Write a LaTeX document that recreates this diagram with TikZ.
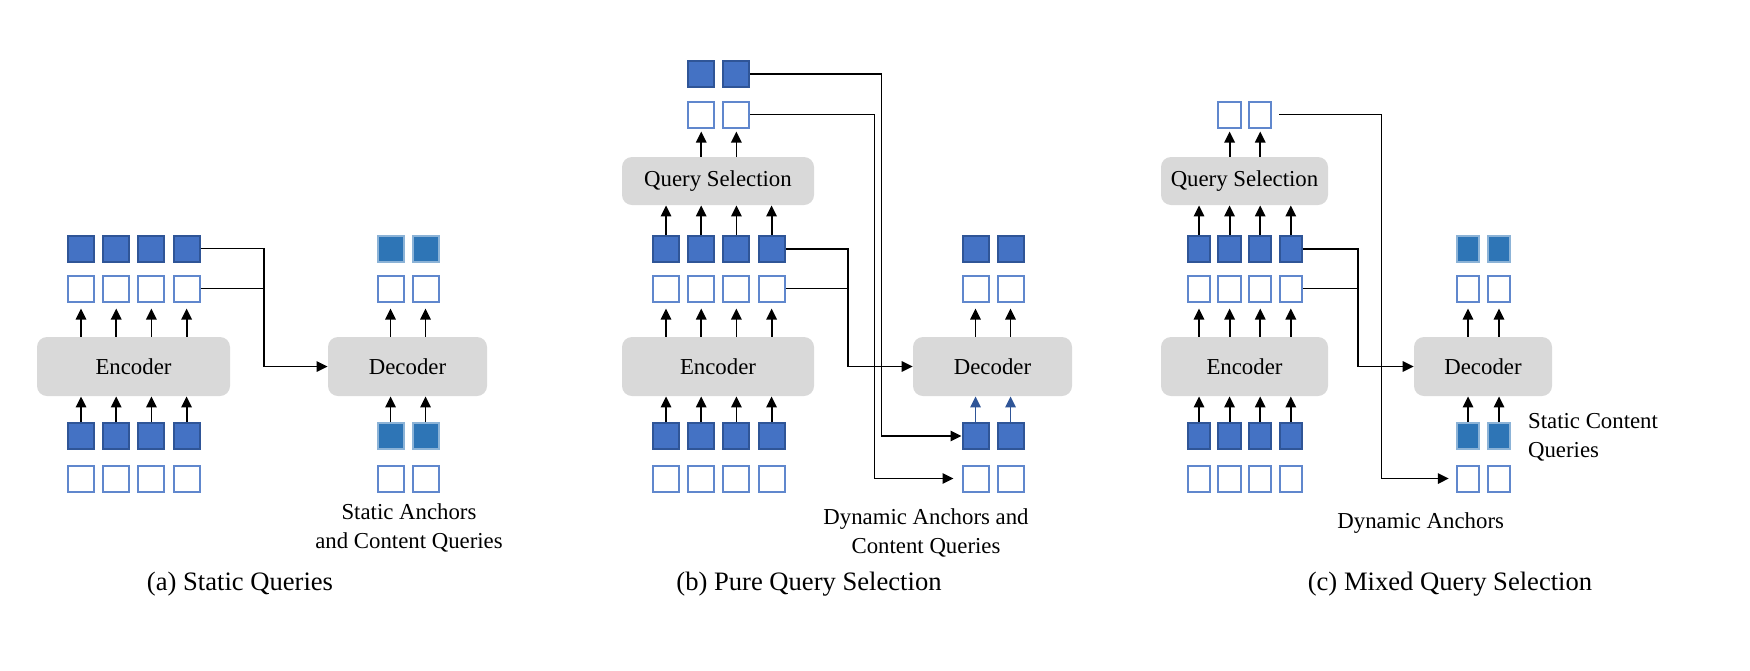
\documentclass[tikz,border=0pt]{standalone}
\usepackage{fontspec}
\setmainfont{Liberation Serif}
\usepackage{xcolor}
\usepackage{tikz}
\usetikzlibrary{arrows.meta, positioning}
\definecolor{qblue}{HTML}{4472C4}
\definecolor{qedge}{HTML}{2F5597}
\definecolor{qteal}{HTML}{2E75B6}
\definecolor{qgray}{HTML}{D9D9D9}
\tikzset{
  sq/.style={rectangle, inner sep=0pt, minimum width=13pt, minimum height=13pt, line width=1pt},
  narrow/.style={minimum width=11.2pt},
  fillsq/.style={sq, fill=qblue, draw=qedge},
  tealsq/.style={sq, fill=qteal, draw=qteal!55!white},
  emptysq/.style={sq, fill=white, draw=qblue!85!white},
  graybox/.style={rectangle, rounded corners=5pt, fill=qgray, inner sep=0pt,
    font=\fontsize{11.4}{13}\selectfont},
  arrow/.style={-{Triangle[length=5.5pt, width=5.2pt]}, line width=0.9pt, black},
  link/.style={line width=0.8pt, black},
  note/.style={font=\fontsize{11.4}{14.5}\selectfont, align=center, inner sep=0pt},
  caption/.style={font=\fontsize{13.3}{15}\selectfont, inner sep=0pt}
}

\begin{document}
\begin{tikzpicture}[x=0.5pt, y=-0.5pt]
  \useasboundingbox (0,0) rectangle (1750,670);

  \node[graybox, minimum width=96.5pt, minimum height=29.5pt] (aenc) at (133.5,366.5) {Encoder};
  \node[graybox, minimum width=79.5pt, minimum height=29.5pt] (adec) at (407.5,366.5) {Decoder};
  \foreach \i in {1,...,4} {
    \pgfmathsetmacro\cx{81+35.2*(\i-1)}
    \node[fillsq]  (af\i)  at (\cx,248.5) {};
    \node[emptysq] (ao\i)  at (\cx,288.5) {};
    \node[fillsq]  (aif\i) at (\cx,436) {};
    \node[emptysq] (aio\i) at (\cx,478.5) {};
    \draw[arrow, shorten >=3pt] (aenc.north -| ao\i) -- (ao\i.south);
    \draw[arrow] (aif\i.north) -- (aif\i.north |- aenc.south);
  }
  \foreach \i/\cx in {1/390.5, 2/425.5} {
    \node[tealsq]  (adf\i)  at (\cx,248.5) {};
    \node[emptysq] (ado\i)  at (\cx,288.5) {};
    \node[tealsq]  (adif\i) at (\cx,436) {};
    \node[emptysq] (adio\i) at (\cx,478.5) {};
    \draw[arrow, shorten >=3pt] (adec.north -| ado\i) -- (ado\i.south);
    \draw[arrow] (adif\i.north) -- (adif\i.north |- adec.south);
  }
  \draw[arrow] (af4.east) -- ++(63,0) |- (adec.west);
  \draw[link]  (ao4.east) -- ++(63,0);
  \node[note] (alabel) at (409,527.5) {Static Anchors\\and Content Queries};
  \node[caption] (acap) at (240,584) {(a) Static Queries};

  \node[graybox, minimum width=96pt, minimum height=24pt] (bqs) at (718,181) {Query Selection};
  \node[graybox, minimum width=96pt, minimum height=29.5pt] (benc) at (718,366.5) {Encoder};
  \node[graybox, minimum width=79.5pt, minimum height=29.5pt] (bdec) at (992.5,366.5) {Decoder};
  \foreach \i in {1,...,4} {
    \pgfmathsetmacro\cx{666+35.2*(\i-1)}
    \node[fillsq]  (bmf\i) at (\cx,249) {};
    \node[emptysq] (bmo\i) at (\cx,288.5) {};
    \node[fillsq]  (bif\i) at (\cx,436) {};
    \node[emptysq] (bio\i) at (\cx,478.5) {};
    \draw[arrow] (bmf\i.north) -- (bmf\i.north |- bqs.south);
    \draw[arrow, shorten >=3pt] (benc.north -| bmo\i) -- (bmo\i.south);
    \draw[arrow] (bif\i.north) -- (bif\i.north |- benc.south);
  }
  \foreach \i/\cx in {1/701.2, 2/736.4} {
    \node[fillsq]  (bf\i) at (\cx,74) {};
    \node[emptysq] (bo\i) at (\cx,114.5) {};
    \draw[arrow, shorten >=1.5pt] (bqs.north -| bo\i) -- (bo\i.south);
  }
  \foreach \i/\cx in {1/975.5, 2/1010.5} {
    \node[fillsq]  (bdf\i)  at (\cx,248.5) {};
    \node[emptysq] (bdo\i)  at (\cx,288.5) {};
    \node[fillsq]  (bdif\i) at (\cx,436) {};
    \node[emptysq] (bdio\i) at (\cx,478.5) {};
    \draw[arrow, shorten >=3pt] (bdec.north -| bdo\i) -- (bdo\i.south);
    \draw[arrow, qedge] (bdif\i.north) -- (bdif\i.north |- bdec.south);
  }
  \draw[arrow] (bmf4.east) -- ++(62.7,0) |- (bdec.west);
  \draw[link]  (bmo4.east) -- ++(62.7,0);
  \draw[arrow] (bf2.east) -- ++(131,0) |- (bdif1.west);
  \draw[arrow, shorten >=4pt] (bo2.east) -- ++(124,0) |- (bdio1.west);
  \node[note] (blabel) at (926,533) {Dynamic Anchors and\\Content Queries};
  \node[caption] (bcap) at (809,584) {(b) Pure Query Selection};

  \node[graybox, minimum width=83.5pt, minimum height=24pt] (cqs) at (1244.5,181) {Query Selection};
  \node[graybox, minimum width=83.5pt, minimum height=29.5pt] (cenc) at (1244.5,366.5) {Encoder};
  \node[graybox, minimum width=69pt, minimum height=29.5pt] (cdec) at (1483,366.5) {Decoder};
  \foreach \i in {1,...,4} {
    \pgfmathsetmacro\cx{1199+30.6*(\i-1)}
    \node[fillsq, narrow]  (cmf\i) at (\cx,249) {};
    \node[emptysq, narrow] (cmo\i) at (\cx,288.5) {};
    \node[fillsq, narrow]  (cif\i) at (\cx,436) {};
    \node[emptysq, narrow] (cio\i) at (\cx,478.5) {};
    \draw[arrow] (cmf\i.north) -- (cmf\i.north |- cqs.south);
    \draw[arrow, shorten >=3pt] (cenc.north -| cmo\i) -- (cmo\i.south);
    \draw[arrow] (cif\i.north) -- (cif\i.north |- cenc.south);
  }
  \foreach \i/\cx in {1/1229.6, 2/1260.2} {
    \node[emptysq, narrow] (co\i) at (\cx,114.5) {};
    \draw[arrow, shorten >=1.5pt] (cqs.north -| co\i) -- (co\i.south);
  }
  \foreach \i/\cx in {1/1468, 2/1499} {
    \node[tealsq, narrow]  (cdf\i)  at (\cx,248.5) {};
    \node[emptysq, narrow] (cdo\i)  at (\cx,288.5) {};
    \node[tealsq, narrow]  (cdif\i) at (\cx,436) {};
    \node[emptysq, narrow] (cdio\i) at (\cx,478.5) {};
    \draw[arrow, shorten >=3pt] (cdec.north -| cdo\i) -- (cdo\i.south);
    \draw[arrow] (cdif\i.north) -- (cdif\i.north |- cdec.south);
  }
  \draw[arrow] (cmf4.east) -- ++(54.7,0) |- (cdec.west);
  \draw[link]  (cmo4.east) -- ++(54.7,0);
  \draw[arrow, shorten >=3.5pt] ([xshift=3.5pt]co2.east) -- ++(102,0) |- (cdio1.west);
  \node[note, align=left, anchor=west] (clabel) at (1527.7,437.5) {Static Content\\Queries};
  \node[note] (cdyn) at (1420.7,522.7) {Dynamic Anchors};
  \node[caption] (ccap) at (1450,584) {(c) Mixed Query Selection};
\end{tikzpicture}
\end{document}
